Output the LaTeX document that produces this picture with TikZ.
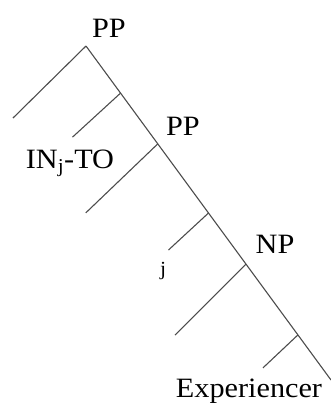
\documentclass[tikz,border=0pt]{standalone}
\usepackage{fontspec}
\setmainfont{Liberation Serif}
\usepackage{graphicx}
\usetikzlibrary{calc}
\newcommand\sx[1]{\scalebox{1.08}[1]{#1}}
\tikzset{
  edge/.style={line width=1.1bp, draw=black!70},
  lbl/.style={inner sep=0pt, anchor=base, font=\fontsize{28bp}{32bp}\selectfont},
  smlbl/.style={inner sep=0pt, anchor=base, font=\fontsize{20bp}{24bp}\selectfont}
}
\begin{document}
\begin{tikzpicture}[x=1bp,y=-1bp]
\useasboundingbox (0,0) rectangle (331,403);
% main spine
\coordinate (top) at (86,46);
\coordinate (bot) at (331,380);
\coordinate (ja) at ($(top)!0.141!(bot)$);
\coordinate (jb) at ($(top)!0.293!(bot)$);
\coordinate (jc) at ($(top)!0.5!(bot)$);
\coordinate (jd) at ($(top)!0.653!(bot)$);
\coordinate (je) at ($(top)!0.865!(bot)$);
% leaves
\coordinate (l0) at (13,118);
\coordinate (la) at ($(ja)+(-48,44)$);
\coordinate (lb) at ($(jb)+(-72,69)$);
\coordinate (lc) at ($(jc)+(-40,37)$);
\coordinate (ld) at ($(jd)+(-71,71)$);
\coordinate (le) at ($(je)+(-35,33)$);
\draw[edge] (top) -- (bot);
\draw[edge] (top) -- (l0);
\draw[edge] (ja) -- (la);
\draw[edge] (jb) -- (lb);
\draw[edge] (jc) -- (lc);
\draw[edge] (jd) -- (ld);
\draw[edge] (je) -- (le);
% labels
\node[lbl] (pp1) at (109,37) {\sx{PP}};
\node[lbl] (pp2) at (183,135) {\sx{PP}};
\node[lbl] (np) at (275,253) {\sx{NP}};
\node[lbl] (into) at (70,168) {\sx{IN\textsubscript{j}-TO}};
\node[smlbl] (jj) at (163,275) {\sx{j}};
\node[lbl] (exp) at (249,397) {\sx{Experiencer}};
\end{tikzpicture}
\end{document}
